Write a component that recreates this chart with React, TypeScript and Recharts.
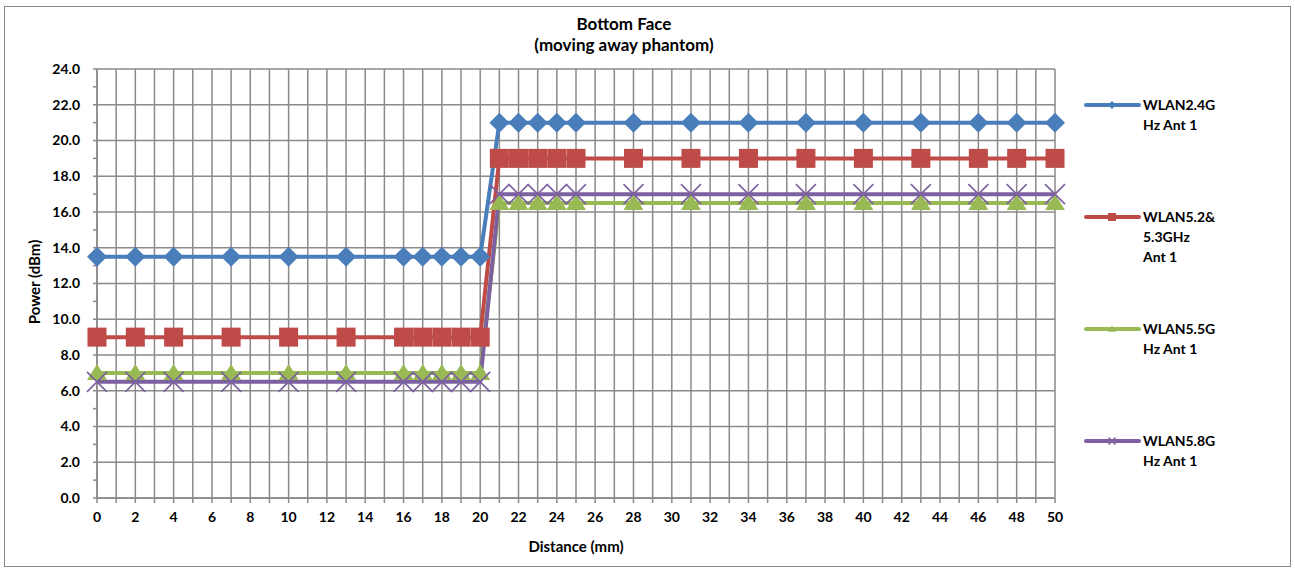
import React from "react";
import { LineChart, Line, XAxis, YAxis, CartesianGrid } from "recharts";

const distance = [0, 2, 4, 7, 10, 13, 16, 17, 18, 19, 20, 21, 22, 23, 24, 25, 28, 31, 34, 37, 40, 43, 46, 48, 50];
const wlan24 = [13.5, 13.5, 13.5, 13.5, 13.5, 13.5, 13.5, 13.5, 13.5, 13.5, 13.5, 21, 21, 21, 21, 21, 21, 21, 21, 21, 21, 21, 21, 21, 21];
const wlan52 = [9, 9, 9, 9, 9, 9, 9, 9, 9, 9, 9, 19, 19, 19, 19, 19, 19, 19, 19, 19, 19, 19, 19, 19, 19];
const wlan55 = [7, 7, 7, 7, 7, 7, 7, 7, 7, 7, 7, 16.5, 16.5, 16.5, 16.5, 16.5, 16.5, 16.5, 16.5, 16.5, 16.5, 16.5, 16.5, 16.5, 16.5];
const wlan58 = [6.5, 6.5, 6.5, 6.5, 6.5, 6.5, 6.5, 6.5, 6.5, 6.5, 6.5, 17, 17, 17, 17, 17, 17, 17, 17, 17, 17, 17, 17, 17, 17];

const yLabels = [0, 2, 4, 6, 8, 10, 12, 14, 16, 18, 20, 22, 24];
// minor steps: every 1 mm on x, every 1 dBm on y (labels only on even values)
const xMinor = Array.from({ length: 51 }, (_, i) => i);
const yMinor = Array.from({ length: 25 }, (_, i) => i);

const FONT = "Lato, 'Open Sans', sans-serif";
const GRID = "#8a8a8a";

const rows = distance.map((d, i) => ({
  d, s24: wlan24[i], s52: wlan52[i], s55: wlan55[i], s58: wlan58[i],
}));

type Shape = "diamond" | "square" | "triangle" | "x";

function marker(shape: Shape, color: string, cx: number, cy: number, r: number, key?: string) {
  if (shape === "diamond")
    return <path key={key} d={`M${cx},${cy - r}L${cx + r},${cy}L${cx},${cy + r}L${cx - r},${cy}Z`} fill={color} />;
  if (shape === "square")
    return <rect key={key} x={cx - r} y={cy - r} width={2 * r} height={2 * r} fill={color} />;
  if (shape === "triangle")
    return <path key={key} d={`M${cx},${cy - r * 0.9}L${cx + r},${cy + r * 0.7}L${cx - r},${cy + r * 0.7}Z`} fill={color} />;
  return (
    <path key={key} d={`M${cx - r},${cy - r}L${cx + r},${cy + r}M${cx - r},${cy + r}L${cx + r},${cy - r}`}
      stroke={color} strokeWidth={1.6} fill="none" />
  );
}

const series = [
  { key: "s24", name: ["WLAN2.4G", "Hz Ant 1"], color: "#4a7ebb", shape: "diamond" as Shape, r: 10, top: 0 },
  { key: "s52", name: ["WLAN5.2&", "5.3GHz", "Ant 1"], color: "#be4b48", shape: "square" as Shape, r: 9.5, top: 112 },
  { key: "s55", name: ["WLAN5.5G", "Hz Ant 1"], color: "#98b954", shape: "triangle" as Shape, r: 10, top: 224 },
  { key: "s58", name: ["WLAN5.8G", "Hz Ant 1"], color: "#7d60a0", shape: "x" as Shape, r: 10, top: 336 },
];

function LegendBox() {
  return (
    <div style={{ position: "absolute", left: 1084, top: 95, width: 160, height: 380, fontWeight: 700, fontSize: 14, color: "#000" }}>
      {series.map((s) => (
        <div key={s.key} style={{ position: "absolute", left: 0, top: s.top }}>
          <svg width={58} height={20} style={{ position: "absolute", left: 0, top: 0 }}>
            <line x1={2} y1={10} x2={55} y2={10} stroke={s.color} strokeWidth={4} strokeLinecap="round" />
            {marker(s.shape, s.color, 28, 10, s.shape === "x" ? 3.5 : 4)}
          </svg>
          <div style={{ position: "absolute", left: 59, top: 0, lineHeight: "20px", whiteSpace: "nowrap" }}>
            {s.name.map((n) => <div key={n}>{n}</div>)}
          </div>
        </div>
      ))}
    </div>
  );
}

export default function App() {
  return (
    <div style={{ position: "absolute", left: 0, top: 0, width: 1295, height: 568, background: "#fff", fontFamily: FONT }}>
      <div style={{ position: "absolute", left: 4, top: 6, width: 1285, height: 559, border: "1px solid #888" }} />
      <div style={{ position: "absolute", left: 424, width: 400, top: 13, textAlign: "center", fontWeight: 700, fontSize: 17, lineHeight: "21px" }}>
        <div>Bottom Face</div>
        <div>(moving away phantom)</div>
      </div>
      <div style={{ position: "absolute", left: 476, width: 200, top: 537, textAlign: "center", fontWeight: 700, fontSize: 15 }}>
        Distance (mm)
      </div>
      <div style={{ position: "absolute", left: 34, top: 282, transform: "translate(-50%,-50%) rotate(-90deg)", fontWeight: 700, fontSize: 15, whiteSpace: "nowrap" }}>
        Power (dBm)
      </div>
      <LineChart width={1295} height={568} data={rows} margin={{ top: 69, right: 240, bottom: 40, left: 37 }}
        style={{ position: "absolute", left: 0, top: 0 }}>
        <CartesianGrid stroke={GRID} strokeWidth={1.5} verticalValues={xMinor} horizontalValues={yLabels} />
        <XAxis dataKey="d" type="number" domain={[0, 50]} ticks={xMinor} interval={0}
          tickFormatter={(v: number) => (v % 2 === 0 ? String(v) : "")}
          stroke={GRID} strokeWidth={1.5} tickSize={5} tickMargin={9} height={30}
          tick={{ fill: "#000", fontSize: 14, fontWeight: 700, fontFamily: FONT }} />
        <YAxis type="number" domain={[0, 24]} ticks={yMinor} interval={0} width={60}
          tickFormatter={(v: number) => (v % 2 === 0 ? v.toFixed(1) : "")}
          stroke={GRID} strokeWidth={1.5} tickSize={4} tickMargin={13}
          tick={{ fill: "#000", fontSize: 14, fontWeight: 700, fontFamily: FONT }} />
        {series.map((s) => (
          <Line key={s.key} dataKey={s.key} type="linear" stroke={s.color} strokeWidth={4}
            isAnimationActive={false}
            dot={(p: any) => marker(s.shape, s.color, p.cx, p.cy, s.r, `${s.key}-${p.index}`)}
            activeDot={false} />
        ))}
      </LineChart>
      <LegendBox />
    </div>
  );
}
